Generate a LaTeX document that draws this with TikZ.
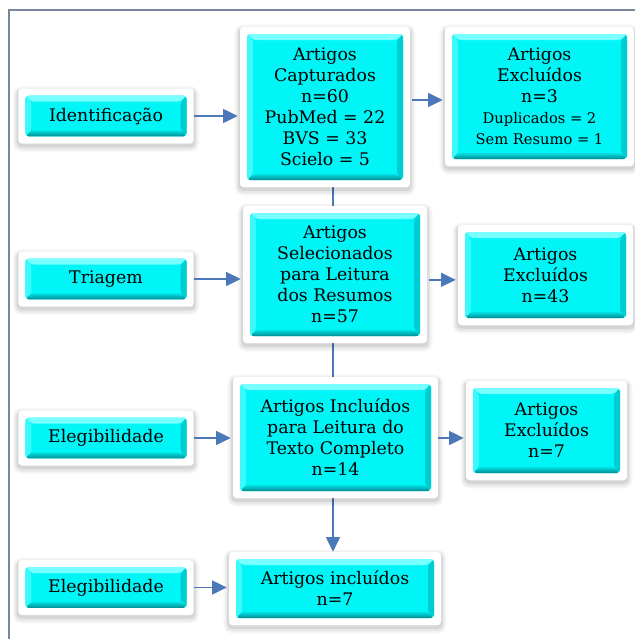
\documentclass[tikz,border=0pt]{standalone}
\usepackage{fontspec}
\setmainfont{DejaVu Serif}
\usepackage{tikz}
\usetikzlibrary{arrows.meta, calc, shadows, backgrounds}
\definecolor{boxcyan}{RGB}{0, 245, 247}
\definecolor{bevellight}{RGB}{120, 255, 255}
\definecolor{bevelleft}{RGB}{60, 250, 252}
\definecolor{beveldark}{RGB}{0, 140, 145}
\definecolor{bevelside}{RGB}{0, 205, 210}
\definecolor{arrowblue}{RGB}{74, 120, 184}
\definecolor{framegray}{RGB}{120, 135, 155}

\begin{document}
\begin{tikzpicture}[x=0.75pt, y=-0.75pt,
	box/.style={rectangle, fill=white, rounded corners=2.5pt, inner sep=0pt, align=center,
		font=\fontsize{13}{15.75}\selectfont,
		general shadow={shadow yshift=-2.2pt, draw=black, line width=8pt, draw opacity=0.04},
		general shadow={shadow yshift=-2.2pt, draw=black, line width=5pt, draw opacity=0.06},
		general shadow={shadow yshift=-1.6pt, draw=black, line width=2.5pt, draw opacity=0.08},
		path picture={
			\path (path picture bounding box.south west) ++(5.25pt,5.25pt) coordinate (bvsw);
			\path (path picture bounding box.north east) ++(-5.25pt,-5.25pt) coordinate (bvne);
			\fill[boxcyan] (bvsw) rectangle (bvne);
			\fill[bevellight] (bvsw |- bvne) -- (bvne) -- ++(-4.5pt,-4.5pt) -- ($(bvsw |- bvne)+(4.5pt,-4.5pt)$) -- cycle;
			\fill[bevelleft] (bvsw) -- (bvsw |- bvne) -- ++(4.5pt,-4.5pt) -- ($(bvsw)+(4.5pt,4.5pt)$) -- cycle;
			\fill[bevelside] (bvsw -| bvne) -- (bvne) -- ++(-4.5pt,-4.5pt) -- ($(bvsw -| bvne)+(-4.5pt,4.5pt)$) -- cycle;
			\shade[top color=boxcyan!80!beveldark, bottom color=beveldark] (bvsw) -- (bvsw -| bvne) -- ++(-4.5pt,4.5pt) -- ($(bvsw)+(4.5pt,4.5pt)$) -- cycle;
		}},
	arr/.style={draw=arrowblue, line width=1.1pt, -{Triangle[length=11pt,width=10.5pt]}}]
	\useasboundingbox (0,0) rectangle (635,639);
	\pgfmathsetmacro{\colx}{333}
	
	% Frame
	\draw[framegray, line width=0.9pt] (9,639) -- (9,10) -- (635,10);
	
	% Stages
	\foreach \nm/\yy/\txt in {ident/116/Identificação, triag/279/Triagem, eleg1/438/Elegibilidade, eleg2/587.5/Elegibilidade}
	{
		\node[box, minimum width=131.5pt, minimum height=41pt] (\nm) at (106,\yy) {\txt};
	}
	
	% Counts
	\node[box, minimum width=127.5pt, minimum height=120pt] (capt) at (325,107)
		{Artigos\\Capturados\\n=60\\PubMed = 22\\BVS = 33\\Scielo = 5};
	\node[box, minimum width=141.75pt, minimum height=104.25pt] (excl3) at (539.5,96.5)
		{Artigos\\Excluídos\\n=3\\{\fontsize{11}{14.5}\selectfont Duplicados = 2}\\{\fontsize{11}{14.5}\selectfont Sem Resumo = 1}};
	\node[box, minimum width=138pt, minimum height=102.75pt] (selec) at (335,274.5)
		{Artigos\\Selecionados\\para Leitura\\dos Resumos\\n=57};
	\node[box, minimum width=131.25pt, minimum height=75pt] (excl43) at (545.5,275)
		{Artigos\\Excluídos\\n=43};
	\node[box, minimum width=153.75pt, minimum height=90.75pt] (incl) at (335.5,437.5)
		{Artigos Incluídos\\para Leitura do\\Texto Completo\\n=14};
	\node[box, minimum width=120.75pt, minimum height=74.25pt] (excl7) at (546.5,430.5)
		{Artigos\\Excluídos\\n=7};
	\node[box, minimum width=159pt, minimum height=54.75pt] (final) at (335,588.5)
		{Artigos incluídos\\n=7};
	
	% Arrows
	\draw[arr, shorten >=1.5pt] (ident.east) -- (capt.west |- ident.east);
	\draw[arr, shorten <=1.5pt, shorten >=1.5pt] ([yshift=-2.6pt]capt.east |- excl3.west) -- ([yshift=-2.6pt]excl3.west);
	\draw[arr, shorten >=1.5pt] (triag.east) -- (selec.west |- triag.east);
	\draw[arr, shorten <=1pt, shorten >=1.5pt] ([yshift=-4pt]selec.east) -- ([yshift=-4pt]excl43.west |- selec.east);
	\draw[arr, shorten >=1.5pt] (eleg1.east) -- (incl.west |- eleg1.east);
	\draw[arr, shorten >=1.5pt] (incl.east |- eleg1.east) -- (excl7.west |- eleg1.east);
	\draw[arr, shorten >=1.5pt] (eleg2.east) -- (final.west |- eleg2.east);
	\begin{scope}[on background layer]
		\draw[arr] (capt.south -| \colx,0) -- (final.north -| \colx,0);
	\end{scope}
\end{tikzpicture}
\end{document}
